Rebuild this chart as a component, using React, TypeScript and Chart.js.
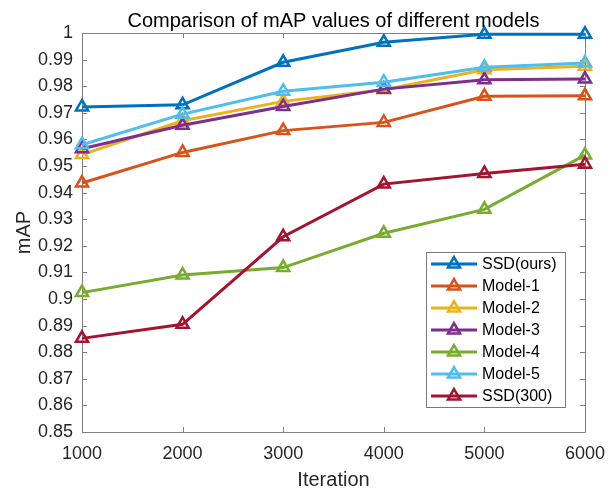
import { useEffect, useRef } from 'react';
import { Chart, registerables } from 'chart.js';

Chart.register(...registerables);

const iterations = [1000, 2000, 3000, 4000, 5000, 6000];

const seriesNames = ['SSD(ours)', 'Model-1', 'Model-2', 'Model-3', 'Model-4', 'Model-5', 'SSD(300)'];

const ssdOurs = [0.9722, 0.973, 0.989, 0.9965, 0.9995, 0.9995];
const model1 = [0.9436, 0.9551, 0.9633, 0.9664, 0.9762, 0.9764];
const model2 = [0.9543, 0.967, 0.9743, 0.9787, 0.9862, 0.9875];
const model3 = [0.9565, 0.9653, 0.9724, 0.9789, 0.9824, 0.9827];
const model4 = [0.9024, 0.909, 0.9118, 0.9247, 0.9337, 0.9541];
const model5 = [0.958, 0.9695, 0.9781, 0.9815, 0.9871, 0.9887];
const ssd300 = [0.8852, 0.8905, 0.9234, 0.9432, 0.9472, 0.9507];

const seriesValues = [ssdOurs, model1, model2, model3, model4, model5, ssd300];

const seriesColors = ['#0072BD', '#D95319', '#EDB120', '#7E2F8E', '#77AC30', '#4DBEEE', '#A2142F'];

const xTicks = [1000, 2000, 3000, 4000, 5000, 6000];
const xTickLabels = ['1000', '2000', '3000', '4000', '5000', '6000'];
const yTicks = [0.85, 0.86, 0.87, 0.88, 0.89, 0.9, 0.91, 0.92, 0.93, 0.94, 0.95, 0.96, 0.97, 0.98, 0.99, 1];
const yTickLabels = ['0.85', '0.86', '0.87', '0.88', '0.89', '0.9', '0.91', '0.92', '0.93', '0.94', '0.95', '0.96', '0.97', '0.98', '0.99', '1'];

const titleText = 'Comparison of mAP values of different models';
const xTitle = 'Iteration';
const yTitle = 'mAP';

const FONT = '"Liberation Sans", Arial, Helvetica, sans-serif';
const AXIS_COLOR = '#808080';
const TEXT_COLOR = '#262626';

const matlabPlugin = {
  id: 'matlabAxes',
  beforeDatasetsDraw(chart: any) {
    const { ctx, chartArea } = chart;
    const { left, right, top, bottom } = chartArea;
    const xs = chart.scales.x;
    const ys = chart.scales.y;
    ctx.save();
    ctx.strokeStyle = AXIS_COLOR;
    ctx.lineWidth = 1;
    ctx.beginPath();
    ctx.rect(Math.round(left) + 0.5, Math.round(top) + 0.5, Math.round(right - left), Math.round(bottom - top));
    ctx.stroke();
    const tl = 5;
    ctx.beginPath();
    xTicks.forEach((v) => {
      const px = Math.round(xs.getPixelForValue(v)) + 0.5;
      ctx.moveTo(px, bottom);
      ctx.lineTo(px, bottom - tl);
      ctx.moveTo(px, top);
      ctx.lineTo(px, top + tl);
    });
    yTicks.forEach((v) => {
      const py = Math.round(ys.getPixelForValue(v)) + 0.5;
      ctx.moveTo(left, py);
      ctx.lineTo(left + tl, py);
      ctx.moveTo(right, py);
      ctx.lineTo(right - tl, py);
    });
    ctx.stroke();
    ctx.restore();
  },
  afterDraw(chart: any) {
    const { ctx, chartArea } = chart;
    const { left, right, top, bottom } = chartArea;
    const cx = (left + right) / 2;
    ctx.save();
    // title
    ctx.fillStyle = '#000';
    ctx.font = `20px ${FONT}`;
    ctx.textAlign = 'center';
    ctx.textBaseline = 'alphabetic';
    ctx.fillText(titleText, cx, 27);
    // x title
    ctx.fillStyle = TEXT_COLOR;
    ctx.fillText(xTitle, cx, 486);
    // y title
    ctx.save();
    ctx.translate(30, (top + bottom) / 2);
    ctx.rotate(-Math.PI / 2);
    ctx.textAlign = 'center';
    ctx.textBaseline = 'alphabetic';
    ctx.fillText(yTitle, 0, 0);
    ctx.restore();

    // legend
    const bx = 426.5, by = 252.5, bw = 139, bh = 155;
    ctx.fillStyle = '#fff';
    ctx.fillRect(bx, by, bw, bh);
    ctx.strokeStyle = '#7a7a7a';
    ctx.lineWidth = 1;
    ctx.strokeRect(bx, by, bw, bh);
    chart.data.datasets.forEach((ds: any, i: number) => {
      const yy = 264 + i * 22;
      ctx.strokeStyle = ds.borderColor;
      ctx.lineWidth = 3;
      ctx.beginPath();
      ctx.moveTo(431, yy);
      ctx.lineTo(477, yy);
      ctx.stroke();
      // triangle marker
      const r = 7;
      ctx.lineWidth = 2.5;
      ctx.beginPath();
      ctx.moveTo(454, yy - r);
      ctx.lineTo(454 + r * Math.sin((2 * Math.PI) / 3), yy - r * Math.cos((2 * Math.PI) / 3));
      ctx.lineTo(454 + r * Math.sin((4 * Math.PI) / 3), yy - r * Math.cos((4 * Math.PI) / 3));
      ctx.closePath();
      ctx.stroke();
      ctx.fillStyle = '#000';
      ctx.font = `16px ${FONT}`;
      ctx.textAlign = 'left';
      ctx.textBaseline = 'middle';
      ctx.fillText(ds.label, 482, yy + 1);
    });
    ctx.restore();
  },
};

export default function App() {
  const canvasRef = useRef<HTMLCanvasElement | null>(null);

  useEffect(() => {
    if (!canvasRef.current) return;
    const datasets = seriesValues.map((vals, i) => ({
      label: seriesNames[i],
      data: iterations.map((x, j) => ({ x, y: vals[j] })),
      borderColor: seriesColors[i],
      backgroundColor: 'rgba(0,0,0,0)',
      pointBackgroundColor: 'rgba(0,0,0,0)',
      pointBorderColor: seriesColors[i],
      pointStyle: 'triangle' as const,
      pointRadius: 7,
      pointBorderWidth: 2.5,
      borderWidth: 3,
      tension: 0,
      clip: false as any,
      order: seriesValues.length - i,
    }));

    const chart = new Chart(canvasRef.current, {
      type: 'line',
      data: { datasets },
      plugins: [matlabPlugin],
      options: {
        animation: false,
        responsive: false,
        maintainAspectRatio: false,
        layout: { padding: { top: 33, right: 21, bottom: 0, left: 0 } },
        plugins: {
          legend: { display: false },
          title: { display: false },
          tooltip: { enabled: false },
        },
        scales: {
          x: {
            type: 'linear',
            min: 1000,
            max: 6000,
            grid: { display: false, drawTicks: false },
            border: { display: false },
            afterBuildTicks: (scale: any) => {
              scale.ticks = xTicks.map((v) => ({ value: v }));
            },
            afterFit: (scale: any) => {
              scale.height = 59;
            },
            ticks: {
              padding: 11,
              color: TEXT_COLOR,
              font: { family: FONT, size: 18 },
              maxRotation: 0,
              autoSkip: false,
              callback: (_v: any, idx: number) => xTickLabels[idx],
            },
          },
          y: {
            type: 'linear',
            min: 0.85,
            max: 1,
            grid: { display: false, drawTicks: false },
            border: { display: false },
            afterBuildTicks: (scale: any) => {
              scale.ticks = yTicks.map((v) => ({ value: v }));
            },
            afterFit: (scale: any) => {
              scale.width = 82;
            },
            ticks: {
              padding: 9,
              color: TEXT_COLOR,
              font: { family: FONT, size: 18 },
              autoSkip: false,
              callback: (_v: any, idx: number) => yTickLabels[idx],
            },
          },
        },
      },
    });
    return () => chart.destroy();
  }, []);

  return (
    <div style={{ position: 'absolute', left: 0, top: 0, width: 616, height: 491, background: '#fff' }}>
      <canvas ref={canvasRef} width={616} height={491} style={{ display: 'block' }} />
    </div>
  );
}
